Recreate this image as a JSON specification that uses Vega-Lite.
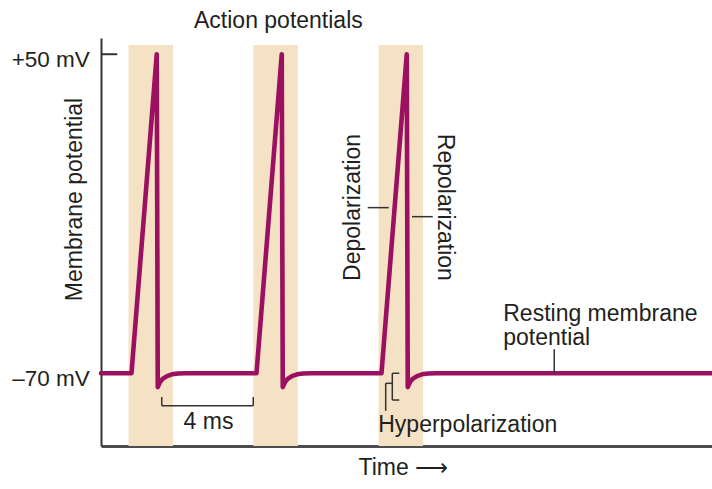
{
  "$schema": "https://vega.github.io/schema/vega-lite/v6.json",
  "width": 611,
  "height": 408,
  "autosize": "none",
  "padding": {"left": 101, "top": 38, "right": 0, "bottom": 43},
  "background": "white",
  "config": {
    "view": {"stroke": null},
    "font": "Liberation Sans",
    "axis": {"grid": false}
  },
  "datasets": {
    "bands": [
      {"start": 1.10, "end": 2.88, "top": 53.5},
      {"start": 6.10, "end": 7.87, "top": 53.5},
      {"start": 11.10, "end": 12.88, "top": 53.5}
    ],
    "wave": [
      {"t": 0, "mv": -70},
      {"t": 1.22, "mv": -70},
      {"t": 2.23, "mv": 50},
      {"t": 2.27, "mv": -75.2},
      {"t": 2.36, "mv": -73.3},
      {"t": 2.48, "mv": -72.0},
      {"t": 2.64, "mv": -71.05},
      {"t": 2.84, "mv": -70.4},
      {"t": 3.08, "mv": -70.1},
      {"t": 3.4, "mv": -70},
      {"t": 6.22, "mv": -70},
      {"t": 7.23, "mv": 50},
      {"t": 7.27, "mv": -75.2},
      {"t": 7.36, "mv": -73.3},
      {"t": 7.48, "mv": -72.0},
      {"t": 7.64, "mv": -71.05},
      {"t": 7.84, "mv": -70.4},
      {"t": 8.08, "mv": -70.1},
      {"t": 8.4, "mv": -70},
      {"t": 11.22, "mv": -70},
      {"t": 12.23, "mv": 50},
      {"t": 12.27, "mv": -75.2},
      {"t": 12.36, "mv": -73.3},
      {"t": 12.48, "mv": -72.0},
      {"t": 12.64, "mv": -71.05},
      {"t": 12.84, "mv": -70.4},
      {"t": 13.08, "mv": -70.1},
      {"t": 13.4, "mv": -70},
      {"t": 24.44, "mv": -70}
    ],
    "leaders": [
      {"x": 10.67, "x2": 11.51, "y": -7.7, "y2": -7.7},
      {"x": 12.44, "x2": 13.27, "y": -11.1, "y2": -11.1},
      {"x": 18.13, "x2": 18.13, "y": -61.0, "y2": -70},
      {"x": 2.43, "x2": 2.43, "y": -78.9, "y2": -82.2},
      {"x": 6.09, "x2": 6.09, "y": -78.9, "y2": -82.2},
      {"x": 2.43, "x2": 6.09, "y": -82.2, "y2": -82.2},
      {"x": 11.652, "x2": 11.652, "y": -70.0, "y2": -80.06},
      {"x": 11.652, "x2": 11.932, "y": -70.0, "y2": -70.0},
      {"x": 11.652, "x2": 11.932, "y": -80.06, "y2": -80.06},
      {"x": 11.388, "x2": 11.388, "y": -73.77, "y2": -84.1},
      {"x": 11.388, "x2": 11.652, "y": -73.77, "y2": -73.77}
    ],
    "ticks": [
      {"x": 0, "x2": 0.65, "y": 50, "y2": 50}
    ],
    "leftLabels": [
      {"t": 3.72, "mv": 59.78, "label": "Action potentials"},
      {"t": 11.09, "mv": -92.0, "label": "Hyperpolarization"},
      {"t": 16.09, "mv": -50.2, "label": "Resting membrane\npotential"}
    ],
    "centerLabels": [
      {"t": 4.30, "mv": -91.1, "label": "4 ms"}
    ],
    "upLabels": [
      {"t": 10.36, "mv": -7.6, "label": "Depolarization"}
    ],
    "downLabels": [
      {"t": 13.49, "mv": -7.6, "label": "Repolarization"}
    ]
  },
  "layer": [
    {
      "data": {"name": "bands"},
      "mark": {"type": "rect", "color": "#f5e2c4"},
      "encoding": {
        "x": {"field": "start", "type": "quantitative",
              "scale": {"domain": [0, 24.44], "nice": false, "zero": false},
              "axis": {"ticks": false, "labels": false, "domainColor": "#4d4d4d", "domainWidth": 3,
                       "title": "Time  ⟶", "titleFont": "Liberation Sans", "titleFontSize": 23,
                       "titleFontWeight": "normal", "titleColor": "#231f20",
                       "titleAlign": "left", "titleBaseline": "alphabetic", "titleX": 257, "titleY": 28}},
        "x2": {"field": "end"},
        "y": {"field": "top", "type": "quantitative",
              "scale": {"domain": [-97.35, 56.1], "nice": false, "zero": false},
              "axis": {"values": [50, -70], "ticks": false,
                       "labelExpr": "datum.value > 0 ? '+50 mV' : '–70 mV'",
                       "labelFont": "Liberation Sans", "labelFontSize": 22.5, "labelColor": "#231f20",
                       "labelPadding": 11.7, "labelBaseline": "alphabetic", "labelOffset": 12,
                       "domainColor": "#333333", "domainWidth": 2,
                       "title": "Membrane potential", "titleFont": "Liberation Sans", "titleFontSize": 23,
                       "titleFontWeight": "normal", "titleColor": "#231f20", "titleAngle": 270,
                       "titleAlign": "center", "titleBaseline": "alphabetic", "titleX": -19.3, "titleY": 161}},
        "y2": {"datum": -97.35}
      }
    },
    {
      "data": {"name": "wave"},
      "mark": {"type": "line", "color": "#9b1060", "strokeWidth": 4.6, "strokeCap": "round", "strokeJoin": "round"},
      "encoding": {
        "x": {"field": "t", "type": "quantitative"},
        "y": {"field": "mv", "type": "quantitative"}
      }
    },
    {
      "data": {"name": "leaders"},
      "mark": {"type": "rule", "color": "#333333", "strokeWidth": 1.5},
      "encoding": {
        "x": {"field": "x", "type": "quantitative"},
        "x2": {"field": "x2"},
        "y": {"field": "y", "type": "quantitative"},
        "y2": {"field": "y2"}
      }
    },
    {
      "data": {"name": "ticks"},
      "mark": {"type": "rule", "color": "#333333", "strokeWidth": 2},
      "encoding": {
        "x": {"field": "x", "type": "quantitative"},
        "x2": {"field": "x2"},
        "y": {"field": "y", "type": "quantitative"},
        "y2": {"field": "y2"}
      }
    },
    {
      "data": {"name": "leftLabels"},
      "mark": {"type": "text", "align": "left", "baseline": "alphabetic", "font": "Liberation Sans",
               "fontSize": 23, "color": "#231f20", "lineBreak": "\n", "lineHeight": 24},
      "encoding": {
        "x": {"field": "t", "type": "quantitative"},
        "y": {"field": "mv", "type": "quantitative"},
        "text": {"field": "label"}
      }
    },
    {
      "data": {"name": "centerLabels"},
      "mark": {"type": "text", "align": "center", "baseline": "alphabetic", "font": "Liberation Sans",
               "fontSize": 23, "color": "#231f20"},
      "encoding": {
        "x": {"field": "t", "type": "quantitative"},
        "y": {"field": "mv", "type": "quantitative"},
        "text": {"field": "label"}
      }
    },
    {
      "data": {"name": "upLabels"},
      "mark": {"type": "text", "align": "center", "baseline": "alphabetic", "angle": 270, "font": "Liberation Sans",
               "fontSize": 23, "color": "#231f20"},
      "encoding": {
        "x": {"field": "t", "type": "quantitative"},
        "y": {"field": "mv", "type": "quantitative"},
        "text": {"field": "label"}
      }
    },
    {
      "data": {"name": "downLabels"},
      "mark": {"type": "text", "align": "center", "baseline": "alphabetic", "angle": 90, "font": "Liberation Sans",
               "fontSize": 23, "color": "#231f20"},
      "encoding": {
        "x": {"field": "t", "type": "quantitative"},
        "y": {"field": "mv", "type": "quantitative"},
        "text": {"field": "label"}
      }
    }
  ]
}
